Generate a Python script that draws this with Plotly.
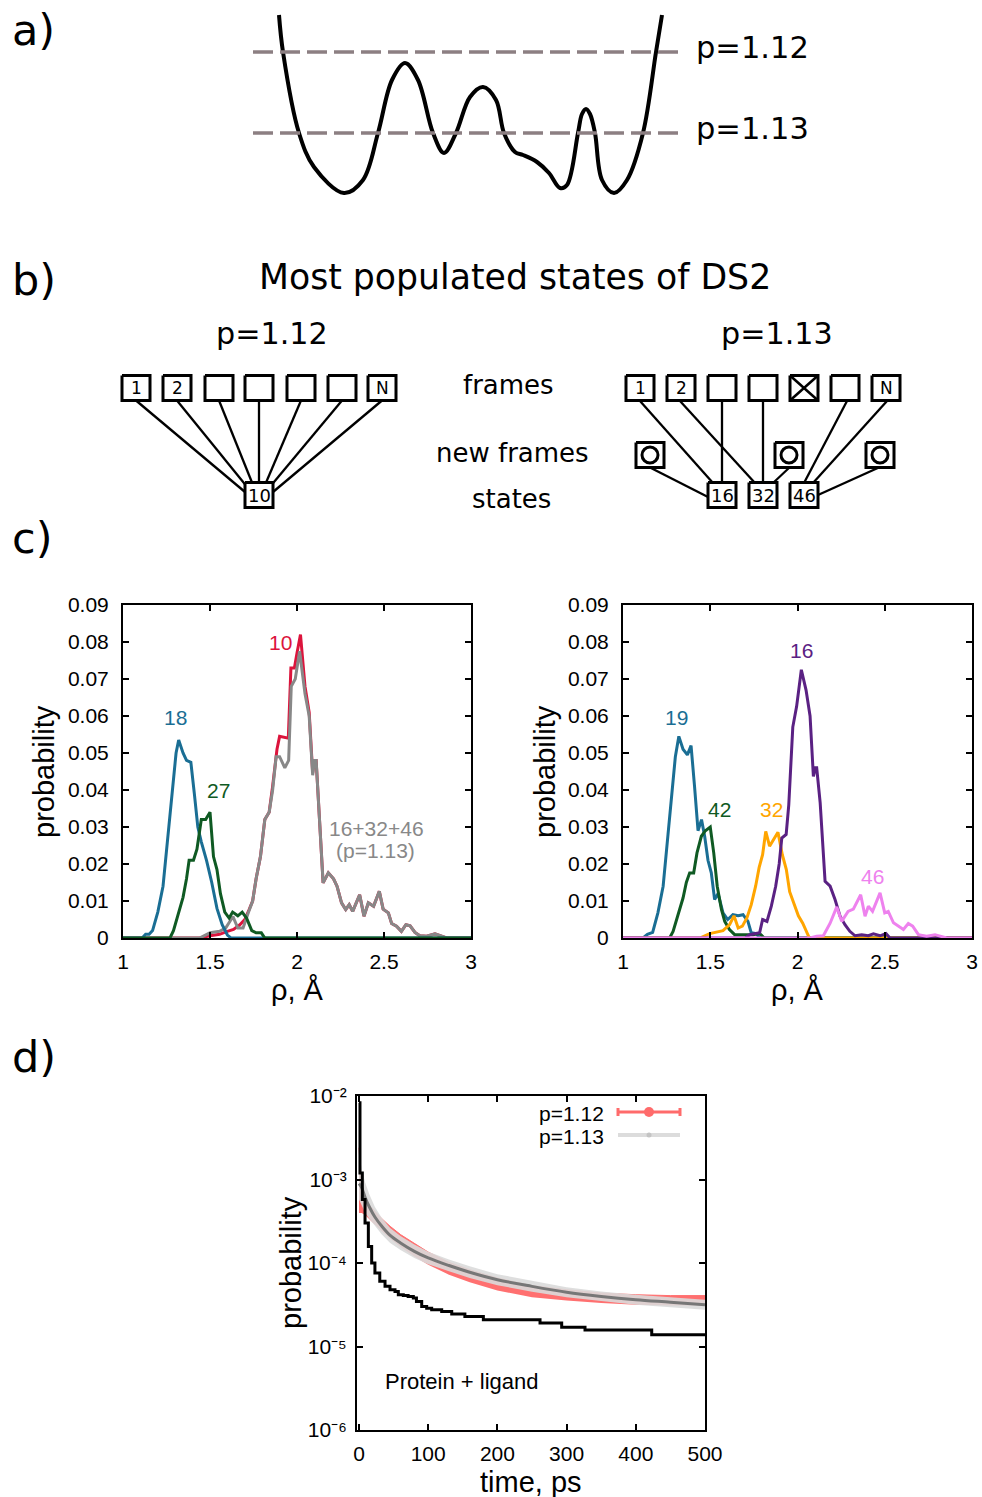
import plotly.graph_objects as go

W, H = 982, 1497

# ---------------- Panel a : schematic energy landscape (pixel frame) ----------------
land_x = [279, 283, 299, 314, 344, 363, 378, 392, 405, 418, 433, 444, 456, 470, 483, 496, 504,
          515, 523, 537, 549, 560, 567, 578, 582, 586, 590, 595, 602, 614, 627, 643, 656, 662]
land_y = [15, 52, 133, 167, 193, 180, 133, 80, 63, 80, 133, 153, 133, 97, 87, 100, 133,
          152, 155, 162, 173, 188, 185, 133, 114, 109, 114, 133, 180, 193, 180, 133, 52, 15]
level_y = [52, 133]
level_x = [253, 682]
level_labels = ["p=1.12", "p=1.13"]

# ---------------- Panel b : frames -> states diagram (pixel frame) ----------------
frame_y = 388
box_w, box_h = 28, 25
left_frame_x = [136, 177, 219, 259, 301, 342, 382]
left_frame_lab = ["1", "2", "", "", "", "", "N"]
left_state_x, left_state_y, left_state_lab = [259], [495], ["10"]
left_link_x1 = [245, 248, 253, 259, 265, 269, 273]
left_link_y1 = [492, 488, 485, 483, 485, 488, 492]

right_frame_x = [640, 681, 722, 763, 804, 845, 886]
right_frame_lab = ["1", "2", "", "", "", "", "N"]
crossed_index = 4
new_frame_x = [650, 789, 880]
new_frame_y = 455
right_state_x = [722, 763, 804]
right_state_y = 495
right_state_lab = ["16", "32", "46"]
right_link_x0 = [640, 680, 722, 763, 847, 887, 649, 790, 880]
right_link_y0 = [401, 401, 401, 401, 401, 401, 467, 467, 467]
right_link_x1 = [713, 755, 722, 763, 804, 813, 708, 773, 818]
right_link_y1 = [483, 483, 483, 483, 483, 483, 497, 483, 495]

# ---------------- Panel c : histograms ----------------
rho_18 = [1.0, 1.11, 1.13, 1.15, 1.17, 1.20, 1.23, 1.26, 1.29, 1.305, 1.32, 1.345, 1.365, 1.39, 1.41,
          1.43, 1.45, 1.48, 1.51, 1.54, 1.57, 1.60, 1.62, 3.0]
p_18 = [0, 0, 0.001, 0.001, 0.002, 0.007, 0.014, 0.028, 0.043, 0.050, 0.0535, 0.050, 0.048, 0.0475, 0.039,
        0.030, 0.026, 0.021, 0.015, 0.008, 0.0036, 0.0008, 0, 0]
rho_27 = [1.0, 1.27, 1.29, 1.315, 1.345, 1.365, 1.38, 1.405, 1.425, 1.45, 1.475, 1.50, 1.52, 1.54, 1.56,
          1.585, 1.61, 1.63, 1.66, 1.685, 1.71, 1.74, 1.765, 1.795, 1.815, 3.0]
p_27 = [0, 0, 0.002, 0.006, 0.011, 0.016, 0.021, 0.021, 0.024, 0.032, 0.032, 0.034, 0.022, 0.0185, 0.012,
        0.007, 0.0054, 0.007, 0.006, 0.007, 0.0054, 0.002, 0.0014, 0.0014, 0, 0]
rho_10 = [1.0, 1.44, 1.50, 1.555, 1.60, 1.635, 1.67, 1.70, 1.725, 1.745, 1.765, 1.79, 1.815, 1.84, 1.86,
          1.885, 1.90, 1.95, 1.965, 1.985, 2.00, 2.02, 2.046, 2.07, 2.09, 2.10, 2.11, 2.128, 2.15, 2.18,
          2.21, 2.23, 2.256, 2.28, 2.30, 2.32, 2.36, 2.385, 2.41, 2.44, 2.473, 2.495, 2.525, 2.544, 2.572,
          2.60, 2.626, 2.65, 2.678, 2.706, 2.745, 2.793, 2.822, 2.86, 3.0]
p_10 = [0, 0, 0.0006, 0.001, 0.0018, 0.0023, 0.0035, 0.005, 0.0077, 0.010, 0.016, 0.022, 0.032, 0.034, 0.041,
        0.051, 0.0545, 0.054, 0.073, 0.073, 0.077, 0.082, 0.068, 0.061, 0.0446, 0.048, 0.048, 0.032, 0.0149, 0.0176,
        0.016, 0.014, 0.0095, 0.0077, 0.009, 0.0072, 0.0117, 0.0059, 0.0095, 0.0086, 0.0126, 0.0078, 0.0068, 0.0039, 0.0032,
        0.0018, 0.0036, 0.0033, 0.0015, 0.0006, 0.0005, 0.0011, 0.0006, 0, 0]
rho_sum = [1.0, 1.44, 1.50, 1.555, 1.59, 1.632, 1.66, 1.69, 1.72, 1.745, 1.765, 1.79, 1.815, 1.84, 1.86,
           1.88, 1.90, 1.93, 1.952, 1.967, 1.99, 2.015, 2.046, 2.07, 2.09, 2.10, 2.11, 2.128, 2.15, 2.18,
           2.21, 2.23, 2.256, 2.28, 2.30, 2.32, 2.36, 2.385, 2.41, 2.44, 2.473, 2.495, 2.525, 2.544, 2.572,
           2.60, 2.626, 2.65, 2.678, 2.706, 2.745, 2.793, 2.822, 2.86, 3.0]
p_sum = [0, 0, 0.0014, 0.0018, 0.0027, 0.0058, 0.0027, 0.0027, 0.0068, 0.010, 0.016, 0.022, 0.032, 0.034, 0.040,
         0.049, 0.049, 0.046, 0.048, 0.068, 0.070, 0.0775, 0.066, 0.060, 0.044, 0.048, 0.048, 0.032, 0.0149, 0.0176,
         0.016, 0.014, 0.0095, 0.0077, 0.009, 0.0072, 0.0117, 0.0059, 0.0095, 0.0086, 0.0126, 0.0078, 0.0068, 0.0039, 0.0032,
         0.0018, 0.0036, 0.0033, 0.0015, 0.0006, 0.0005, 0.0011, 0.0006, 0, 0]

rho_19 = [1.0, 1.115, 1.14, 1.17, 1.20, 1.23, 1.258, 1.287, 1.30, 1.32, 1.344, 1.369, 1.39, 1.41, 1.43,
          1.45, 1.468, 1.487, 1.506, 1.525, 1.545, 1.573, 1.60, 1.63, 1.66, 1.688, 1.716, 1.735, 1.764, 1.783, 3.0]
p_19 = [0, 0, 0.001, 0.0015, 0.0068, 0.014, 0.028, 0.043, 0.049, 0.0545, 0.051, 0.0495, 0.052, 0.041, 0.029,
        0.032, 0.0275, 0.021, 0.0176, 0.0104, 0.012, 0.0068, 0.005, 0.0063, 0.006, 0.0063, 0.0045, 0.0014, 0.0012, 0, 0]
rho_42 = [1.0, 1.267, 1.287, 1.315, 1.344, 1.363, 1.382, 1.405, 1.424, 1.449, 1.472, 1.50, 1.52, 1.54, 1.564,
          1.583, 1.61, 1.64, 1.688, 1.745, 1.783, 1.81, 3.0]
p_42 = [0, 0, 0.0018, 0.006, 0.0108, 0.015, 0.0176, 0.0176, 0.023, 0.0275, 0.029, 0.030, 0.023, 0.014, 0.0077,
        0.0045, 0.0023, 0.0009, 0.0009, 0.0009, 0.0012, 0, 0]
rho_32 = [1.0, 1.44, 1.497, 1.535, 1.573, 1.611, 1.636, 1.66, 1.684, 1.71, 1.735, 1.76, 1.78, 1.80, 1.818,
          1.84, 1.863, 1.888, 1.913, 1.936, 1.955, 1.978, 2.005, 2.03, 2.053, 2.068, 3.0]
p_32 = [0, 0, 0.0012, 0.0015, 0.002, 0.0036, 0.006, 0.0027, 0.0032, 0.0054, 0.009, 0.014, 0.019, 0.0225, 0.0288,
        0.0248, 0.0266, 0.0286, 0.0225, 0.0185, 0.0125, 0.0095, 0.006, 0.004, 0.0014, 0, 0]
rho_16 = [1.0, 1.70, 1.726, 1.755, 1.783, 1.80, 1.825, 1.85, 1.875, 1.895, 1.91, 1.935, 1.95, 1.973, 1.995,
          2.022, 2.049, 2.072, 2.091, 2.102, 2.11, 2.13, 2.158, 2.187, 2.215, 2.244, 2.272, 2.30, 2.33, 2.368,
          2.406, 2.435, 2.473, 2.507, 2.53, 3.0]
p_16 = [0, 0, 0.0009, 0.0012, 0.0014, 0.005, 0.0045, 0.0086, 0.014, 0.020, 0.027, 0.028, 0.036, 0.057, 0.0626,
        0.0725, 0.067, 0.060, 0.0437, 0.046, 0.046, 0.0365, 0.0153, 0.014, 0.0104, 0.0059, 0.0036, 0.0018, 0.0006, 0.0009,
        0.0006, 0.0011, 0.0006, 0.0012, 0, 0]
rho_46 = [1.0, 2.072, 2.11, 2.148, 2.187, 2.225, 2.253, 2.29, 2.32, 2.362, 2.387, 2.406, 2.43, 2.473, 2.50,
          2.52, 2.55, 2.578, 2.607, 2.635, 2.66, 2.693, 2.74, 2.788, 2.817, 2.855, 3.0]
p_46 = [0, 0, 0.0005, 0.0006, 0.004, 0.0084, 0.0045, 0.0072, 0.0078, 0.0117, 0.0059, 0.0086, 0.0072, 0.0122, 0.0068,
        0.0072, 0.0041, 0.0032, 0.0023, 0.0039, 0.0032, 0.0009, 0.0005, 0.0009, 0.0005, 0, 0]

rho_ticks = [1, 1.5, 2, 2.5, 3]
rho_ticktext = ["1", "1.5", "2", "2.5", "3"]

# ---------------- Panel d : survival probabilities ----------------
t_band = [0, 4, 9, 15, 23, 33, 45, 60, 80, 100, 130, 160, 200, 250, 300, 350, 400, 450, 500]
p112_hi = [2.40e-3, 7.59e-4, 5.62e-4, 4.90e-4, 4.17e-4, 3.39e-4, 2.75e-4, 2.19e-4, 1.70e-4, 1.35e-4,
           1.02e-4, 8.32e-5, 6.61e-5, 5.37e-5, 4.79e-5, 4.37e-5, 4.17e-5, 4.07e-5, 4.07e-5]
p112_lo = [3.98e-4, 3.98e-4, 3.72e-4, 3.31e-4, 2.88e-4, 2.40e-4, 1.95e-4, 1.55e-4, 1.20e-4, 9.55e-5,
           7.24e-5, 5.89e-5, 4.68e-5, 3.89e-5, 3.55e-5, 3.31e-5, 3.16e-5, 3.09e-5, 3.09e-5]
p113_mid = [8.91e-4, 7.94e-4, 6.03e-4, 4.68e-4, 3.55e-4, 2.75e-4, 2.14e-4, 1.74e-4, 1.38e-4, 1.15e-4,
            9.33e-5, 7.76e-5, 6.31e-5, 5.25e-5, 4.47e-5, 3.98e-5, 3.63e-5, 3.39e-5, 3.16e-5]
p113_hi = [2.09e-3, 1.32e-3, 9.12e-4, 6.61e-4, 4.68e-4, 3.47e-4, 2.63e-4, 2.11e-4, 1.66e-4, 1.36e-4,
           1.10e-4, 9.12e-5, 7.33e-5, 6.10e-5, 5.13e-5, 4.57e-5, 4.17e-5, 3.89e-5, 3.63e-5]
p113_lo = [5.75e-4, 4.79e-4, 3.98e-4, 3.39e-4, 2.75e-4, 2.19e-4, 1.74e-4, 1.43e-4, 1.15e-4, 9.66e-5,
           7.94e-5, 6.61e-5, 5.43e-5, 4.52e-5, 3.89e-5, 3.47e-5, 3.16e-5, 2.95e-5, 2.75e-5]
t_md = [0, 1.4, 4.8, 8.7, 13.5, 18.3, 23, 30, 37.6, 44.8, 52, 56.8, 64, 71, 78.5, 83, 90.6, 97.8, 105,
        119.5, 134, 153, 179.7, 261.6, 292.9, 326.6, 423, 500]
p_md = [8.3e-3, 1.2e-3, 5.75e-4, 3.02e-4, 1.58e-4, 1.0e-4, 7.59e-5, 6.03e-5, 5.25e-5, 4.79e-5, 4.57e-5,
        4.17e-5, 4.07e-5, 3.98e-5, 3.80e-5, 3.47e-5, 3.02e-5, 2.88e-5, 2.75e-5, 2.63e-5, 2.45e-5, 2.29e-5,
        2.09e-5, 1.91e-5, 1.70e-5, 1.58e-5, 1.38e-5, 1.38e-5]
t_ticks = [0, 100, 200, 300, 400, 500]
p_ticks = [1e-6, 1e-5, 1e-4, 1e-3, 1e-2]
p_ticktext = ["10\u207b\u2076", "10\u207b\u2075", "10\u207b\u2074", "10\u207b\u00b3", "10\u207b\u00b2"]
legend_x = [618, 680]
legend_y = [1112, 1135]

# ---------------- colours ----------------
C_BLUE, C_GREEN, C_RED, C_GRAY = "#1a6e94", "#0f5a23", "#dc143c", "#888888"
C_ORANGE, C_PURPLE, C_VIOLET = "#ffa500", "#5a2183", "#ee82ee"
C_LIGHTRED, C_LIGHTGRAY = "#ff7070", "rgba(218,218,218,0.9)"

SANS = "Liberation Sans, Arial, sans-serif"
DEJ = "DejaVu Sans, sans-serif"

fig = go.Figure()

# ---- panel c left
for xs, ys, col in [(rho_10, p_10, C_RED), (rho_sum, p_sum, C_GRAY), (rho_18, p_18, C_BLUE), (rho_27, p_27, C_GREEN)]:
    fig.add_trace(go.Scatter(x=xs, y=ys, mode="lines", line=dict(color=col, width=3),
                             xaxis="x", yaxis="y", showlegend=False, hoverinfo="skip"))
# ---- panel c right
for xs, ys, col in [(rho_19, p_19, C_BLUE), (rho_42, p_42, C_GREEN), (rho_32, p_32, C_ORANGE),
                    (rho_16, p_16, C_PURPLE), (rho_46, p_46, C_VIOLET)]:
    fig.add_trace(go.Scatter(x=xs, y=ys, mode="lines", line=dict(color=col, width=3),
                             xaxis="x2", yaxis="y2", showlegend=False, hoverinfo="skip"))

# ---- panel d
fig.add_trace(go.Scatter(x=t_band, y=p112_lo, mode="lines", line=dict(width=0, color=C_LIGHTRED),
                         xaxis="x3", yaxis="y3", showlegend=False, hoverinfo="skip"))
fig.add_trace(go.Scatter(x=t_band, y=p112_hi, mode="lines", line=dict(width=1, color=C_LIGHTRED),
                         fill="tonexty", fillcolor=C_LIGHTRED,
                         xaxis="x3", yaxis="y3", showlegend=False, hoverinfo="skip"))
fig.add_trace(go.Scatter(x=t_band, y=p113_lo, mode="lines", line=dict(width=0, color=C_LIGHTGRAY),
                         xaxis="x3", yaxis="y3", showlegend=False, hoverinfo="skip"))
fig.add_trace(go.Scatter(x=t_band, y=p113_hi, mode="lines", line=dict(width=0, color=C_LIGHTGRAY),
                         fill="tonexty", fillcolor=C_LIGHTGRAY,
                         xaxis="x3", yaxis="y3", showlegend=False, hoverinfo="skip"))
fig.add_trace(go.Scatter(x=t_band, y=p113_mid, mode="lines", line=dict(width=3, color="#777777", shape="spline"),
                         xaxis="x3", yaxis="y3", showlegend=False, hoverinfo="skip"))
fig.add_trace(go.Scatter(x=t_md, y=p_md, mode="lines", line=dict(width=3, color="black", shape="hv"),
                         xaxis="x3", yaxis="y3", showlegend=False, hoverinfo="skip"))

# ---- overlay (pixel frame) : panel a
fig.add_trace(go.Scatter(x=land_x, y=land_y, mode="lines", line=dict(color="black", width=4, shape="spline", smoothing=1.0),
                         xaxis="x4", yaxis="y4", showlegend=False, hoverinfo="skip"))
for ly in level_y:
    fig.add_trace(go.Scatter(x=level_x, y=[ly, ly], mode="lines",
                             line=dict(color="#8c7f82", width=3.5, dash="20px,7px"),
                             xaxis="x4", yaxis="y4", showlegend=False, hoverinfo="skip"))


def box_path(cx, cy, w, h):
    return ([cx - w / 2, cx + w / 2, cx + w / 2, cx - w / 2, cx - w / 2, None],
            [cy - h / 2, cy - h / 2, cy + h / 2, cy + h / 2, cy - h / 2, None])


# links (drawn first)
lx, ly_ = [], []
for x0, x1, y1 in zip(left_frame_x, left_link_x1, left_link_y1):
    lx += [x0, x1, None]
    ly_ += [frame_y + box_h / 2, y1, None]
for x0, y0, x1, y1 in zip(right_link_x0, right_link_y0, right_link_x1, right_link_y1):
    lx += [x0, x1, None]
    ly_ += [y0, y1, None]
fig.add_trace(go.Scatter(x=lx, y=ly_, mode="lines", line=dict(color="black", width=2.3),
                         xaxis="x4", yaxis="y4", showlegend=False, hoverinfo="skip"))

# boxes
bx, by = [], []
for cx in left_frame_x + right_frame_x:
    px, py = box_path(cx, frame_y, box_w, box_h)
    bx += px
    by += py
for cx in new_frame_x:
    px, py = box_path(cx, new_frame_y, box_w, box_h)
    bx += px
    by += py
for cx in left_state_x:
    px, py = box_path(cx, left_state_y[0], box_w, box_h)
    bx += px
    by += py
for cx in right_state_x:
    px, py = box_path(cx, right_state_y, box_w, box_h)
    bx += px
    by += py
fig.add_trace(go.Scatter(x=bx, y=by, mode="lines", fill="toself", fillcolor="white",
                         line=dict(color="black", width=3),
                         xaxis="x4", yaxis="y4", showlegend=False, hoverinfo="skip"))
# crossed frame
cxx = right_frame_x[crossed_index]
fig.add_trace(go.Scatter(x=[cxx - box_w / 2, cxx + box_w / 2, None, cxx - box_w / 2, cxx + box_w / 2],
                         y=[frame_y - box_h / 2, frame_y + box_h / 2, None, frame_y + box_h / 2, frame_y - box_h / 2],
                         mode="lines", line=dict(color="black", width=2.5),
                         xaxis="x4", yaxis="y4", showlegend=False, hoverinfo="skip"))
# new frames circles
fig.add_trace(go.Scatter(x=new_frame_x, y=[new_frame_y] * len(new_frame_x), mode="markers",
                         marker=dict(symbol="circle-open", size=16, line=dict(width=3, color="black"), color="black"),
                         xaxis="x4", yaxis="y4", showlegend=False, hoverinfo="skip"))

# legend samples of panel d
fig.add_trace(go.Scatter(x=legend_x, y=[legend_y[1]] * 2, mode="lines", line=dict(color="#dcdcdc", width=4),
                         xaxis="x4", yaxis="y4", showlegend=False, hoverinfo="skip"))
fig.add_trace(go.Scatter(x=[(legend_x[0] + legend_x[1]) / 2], y=[legend_y[1]], mode="markers",
                         marker=dict(color="#c4c4c4", size=5),
                         xaxis="x4", yaxis="y4", showlegend=False, hoverinfo="skip"))
fig.add_trace(go.Scatter(x=legend_x + [None, legend_x[0], legend_x[0], None, legend_x[1], legend_x[1]],
                         y=[legend_y[0]] * 2 + [None, legend_y[0] - 4, legend_y[0] + 4, None, legend_y[0] - 4, legend_y[0] + 4],
                         mode="lines", line=dict(color="#ff6b6b", width=3),
                         xaxis="x4", yaxis="y4", showlegend=False, hoverinfo="skip"))
fig.add_trace(go.Scatter(x=[(legend_x[0] + legend_x[1]) / 2], y=[legend_y[0]], mode="markers",
                         marker=dict(color="#ff6b6b", size=10),
                         xaxis="x4", yaxis="y4", showlegend=False, hoverinfo="skip"))

# ---------------- annotations ----------------
ann = []


def A(x, y, text, size, family=SANS, color="black", xanchor="center", yanchor="middle", ref="x4", textangle=0):
    ann.append(dict(x=x, y=y, text=text, xref=ref, yref=ref.replace("x", "y"), showarrow=False,
                    xanchor=xanchor, yanchor=yanchor, textangle=textangle,
                    font=dict(family=family, size=size, color=color)))


# box labels
for xx, tt in zip(left_frame_x + right_frame_x, left_frame_lab + right_frame_lab):
    if tt:
        A(xx, frame_y, tt, 17, DEJ)
for xx, tt in zip(left_state_x + right_state_x, left_state_lab + right_state_lab):
    A(xx, right_state_y, tt, 18, DEJ)

for lab, yy in zip(["a)", "b)", "c)", "d)"], [30, 280, 538, 1057]):
    A(10, yy, lab, 43, DEJ, xanchor="left")
for lab, yy in zip(level_labels, level_y):
    A(694, yy - 5, lab, 30.5, DEJ, xanchor="left")
A(515, 277, "Most populated states of DS2", 34.7, DEJ)
A(272, 333, "p=1.12", 30.2, DEJ)
A(777, 333, "p=1.13", 30.2, DEJ)
A(508, 385, "frames", 26, DEJ)
A(512, 453, "new frames", 26, DEJ)
A(511, 499, "states", 26, DEJ)

# panel c labels
A(175, 717, "18", 21, color=C_BLUE)
A(218, 790, "27", 21, color=C_GREEN)
A(280, 642, "10", 21, color=C_RED)
A(376, 828, "16+32+46", 21, color=C_GRAY)
A(375, 850, "(p=1.13)", 21, color=C_GRAY)
A(676, 717, "19", 21, color=C_BLUE)
A(719, 809, "42", 21, color=C_GREEN)
A(771, 809, "32", 21, color=C_ORANGE)
A(801, 650, "16", 21, color=C_PURPLE)
A(872, 876, "46", 21, color=C_VIOLET)
A(44, 772, "probability", 29, textangle=-90)
A(545, 772, "probability", 29, textangle=-90)
A(297, 990, "\u03c1, \u00c5", 29)
A(797, 990, "\u03c1, \u00c5", 29)
# panel d labels
A(291, 1263, "probability", 29, textangle=-90)
A(531, 1482, "time, ps", 29)
A(606, 1113, "p=1.12", 21, xanchor="right")
A(606, 1136, "p=1.13", 21, xanchor="right")
A(462, 1381, "Protein + ligand", 22)


def px_dom_x(a, b):
    return [a / W, b / W]


def px_dom_y(top, bottom):
    return [1 - bottom / H, 1 - top / H]


axis_common = dict(showline=True, linecolor="black", linewidth=2, mirror="allticks", ticks="inside",
                   ticklen=6, tickwidth=1.5, tickcolor="black", showgrid=False, zeroline=False,
                   automargin=False,
                   tickfont=dict(family=SANS, size=21, color="black"), fixedrange=True)

fig.update_layout(
    template="none",
    width=W, height=H, margin=dict(l=0, r=0, t=0, b=0, pad=0), autosize=False,
    paper_bgcolor="white", plot_bgcolor="rgba(0,0,0,0)",
    showlegend=False, annotations=ann,
    xaxis=dict(domain=px_dom_x(123, 471), range=[1, 3], tickvals=rho_ticks, ticktext=rho_ticktext,
               anchor="y", ticklabelstandoff=4, **axis_common),
    yaxis=dict(domain=px_dom_y(605, 938), range=[0, 0.09], dtick=0.01, anchor="x",
               ticklabelstandoff=8, **axis_common),
    xaxis2=dict(domain=px_dom_x(623, 972), range=[1, 3], tickvals=rho_ticks, ticktext=rho_ticktext,
                anchor="y2", ticklabelstandoff=4, **axis_common),
    yaxis2=dict(domain=px_dom_y(605, 938), range=[0, 0.09], dtick=0.01, anchor="x2",
                ticklabelstandoff=8, **axis_common),
    xaxis3=dict(domain=px_dom_x(357, 705), range=[-2.9, 500], tickvals=t_ticks, anchor="y3",
                ticklabelstandoff=4, **axis_common),
    yaxis3=dict(domain=px_dom_y(1096, 1430), type="log", range=[-6, -2], tickvals=p_ticks,
                ticktext=p_ticktext, anchor="x3", ticklabelstandoff=4, **axis_common),
    xaxis4=dict(domain=[0, 1], range=[0, W], visible=False, fixedrange=True, anchor="y4", automargin=False),
    yaxis4=dict(domain=[0, 1], range=[H, 0], visible=False, fixedrange=True, anchor="x4", automargin=False),
)

fig.write_html("out.html")
